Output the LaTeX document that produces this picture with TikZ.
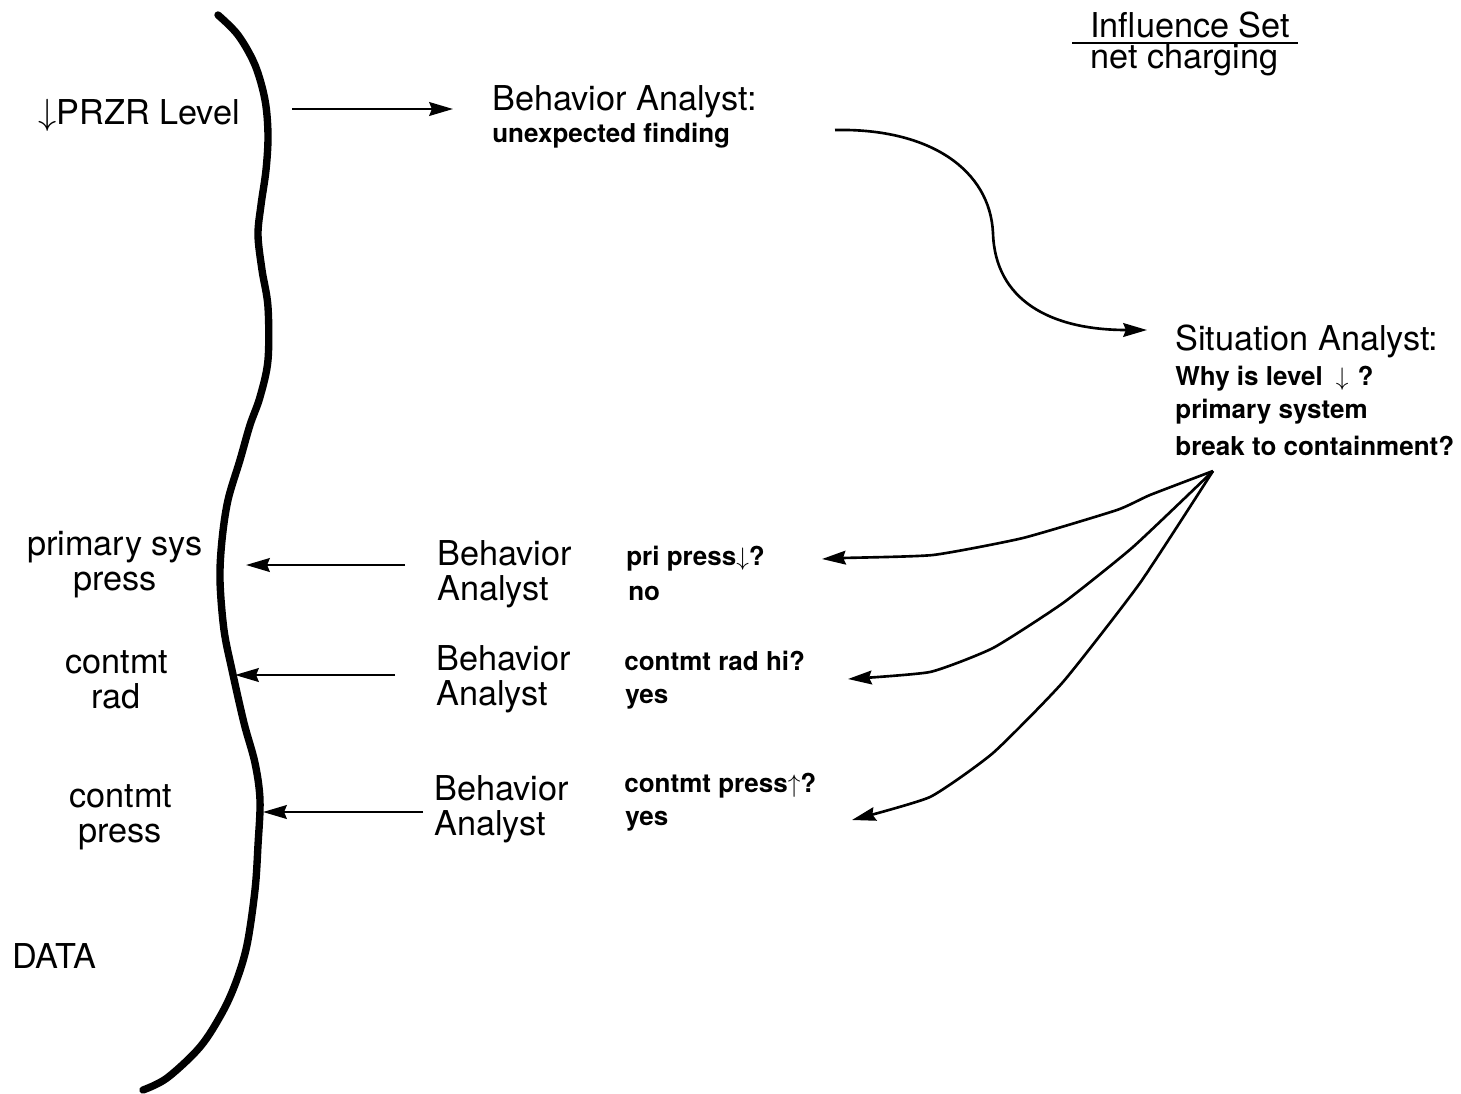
\documentclass[tikz,border=0pt]{standalone}
\usepackage{fontspec}
\setmainfont{TeX Gyre Heros}
\usetikzlibrary{arrows.meta}
\begin{document}
\begin{tikzpicture}[x=0.02cm,y=-0.02cm,
  big/.style={font=\fontsize{19.5}{20}\selectfont, inner sep=0pt, anchor=base west},
  bigc/.style={font=\fontsize{19.5}{20}\selectfont, inner sep=0pt, anchor=base},
  small/.style={font=\fontsize{14.8}{16}\selectfont\bfseries, inner sep=0pt, anchor=base west},
  conn/.style={line width=1.5pt, line join=round, -{Stealth[length=13.5pt,width=7.8pt,inset=1.5pt]}},
  datacurve/.style={line width=4.2pt, line cap=round, line join=round}]
\useasboundingbox[fill=white] (0,0) rectangle (1461,1093);

% data boundary curve
\draw[datacurve] plot[smooth, tension=0.55] coordinates {
 (218,15) (238,35) (255,65) (265,100) (268,135) (266,170) (261,205) (258,235)
 (262,270) (268,307) (268,360) (260,397) (250,425) (240,460) (228,500) (222,540)
 (220,580) (224,630) (232,670) (244,723) (255,763) (260,800) (258,845) (255,890)
 (247,945) (236,982) (222,1013) (200,1047) (167,1078) (143,1090)};

% texts
\node[big] (przr) at (38,124) {$\downarrow$PRZR Level};
\node[big] (ba0) at (492,110) {Behavior Analyst:};
\node[small] (ba0b) at (492,142) {unexpected finding};
\node[big] (infl) at (1090,37) {Influence Set};
\node[big] (netc) at (1090,68) {net charging};
\draw[line width=1.6pt] (1072,43) -- (1298,43);

\node[big] (sa) at (1175,350) {Situation Analyst:};
\node[small] (sa1) at (1175,385) {Why is level\hspace{0.5em}$\downarrow$\hspace{0.35em}?};
\node[small] (sa2) at (1175,418) {primary system};
\node[small] (sa3) at (1175,455) {break to containment?};

\node[bigc] (ps1) at (115,555) {primary sys};
\node[bigc] (ps2) at (115,590) {press};
\node[bigc] (cr1) at (117,673) {contmt};
\node[bigc] (cr2) at (116,708) {rad};
\node[bigc] (cp1) at (121,807) {contmt};
\node[bigc] (cp2) at (120,842) {press};
\node[big] (data) at (12,968) {DATA};

\node[big] (b1) at (437,565) {Behavior};
\node[big] (b1b) at (437,600) {Analyst};
\node[big] (b2) at (436,670) {Behavior};
\node[big] (b2b) at (436,705) {Analyst};
\node[big] (b3) at (434,800) {Behavior};
\node[big] (b3b) at (434,835) {Analyst};

\node[small] (q1) at (626,565) {pri press$\downarrow$?};
\node[small] (q1b) at (628,600) {no};
\node[small] (q2) at (624,670) {contmt rad hi?};
\node[small] (q2b) at (625,703) {yes};
\node[small] (q3) at (624,792) {contmt press$\uparrow$?};
\node[small] (q3b) at (625,825) {yes};

% connector end points
\coordinate (a0s) at (292,109);
\coordinate (a0e) at (453,109);
\coordinate (s0) at (835,130);
\coordinate (s1) at (1147,330);
\coordinate (sao) at (1213,471);
\coordinate (t1) at (822,559);
\coordinate (t2) at (848,679);
\coordinate (t3) at (852,820);
\coordinate (l1s) at (405,565);
\coordinate (l1e) at (246,565);
\coordinate (l2s) at (395,675);
\coordinate (l2e) at (235,675);
\coordinate (l3s) at (423,812);
\coordinate (l3e) at (263,812);

% connectors
\draw[conn] (a0s) -- (a0e);
\draw[conn] (s0) .. controls (930,128) and (990,170) .. (993,233)
               .. controls (995,300) and (1050,330) .. (s1);
\draw[conn] plot[smooth, tension=0.3] coordinates {(sao) (1150,495) (1117,510) (1023,538) (933,555) (843,558) (t1)};
\draw[conn] plot[smooth, tension=0.3] coordinates {(sao) (1133,547) (1063,603) (993,648) (930,672) (t2)};
\draw[conn] plot[smooth, tension=0.3] coordinates {(sao) (1140,583) (1063,682) (993,753) (930,797) (t3)};
\draw[conn] (l1s) -- (l1e);
\draw[conn] (l2s) -- (l2e);
\draw[conn] (l3s) -- (l3e);
\end{tikzpicture}
\end{document}
